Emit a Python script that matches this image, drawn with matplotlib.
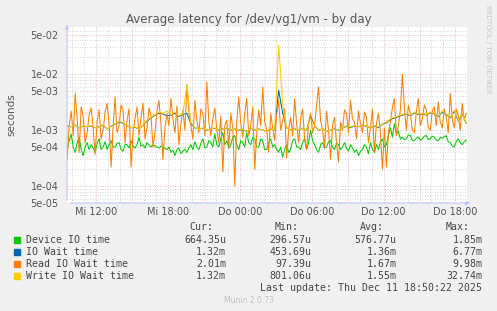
import matplotlib
matplotlib.use('Agg')
import matplotlib.pyplot as plt
import matplotlib.dates as mdates
import matplotlib.ticker as mticker
from matplotlib.patches import Rectangle
import numpy as np
import pandas as pd

# values in milliseconds; device/read sampled every 10 min, the wait totals every 20 min
times_10 = pd.date_range('2025-12-10 09:34', periods=201, freq='10min')
times_20 = pd.date_range('2025-12-10 09:34', periods=101, freq='20min')

device_io = [0.45, 0.65, 0.85, 0.50, 0.40, 0.60, 0.75, 0.45, 0.35, 0.50, 0.60, 0.45,
             0.55, 0.48, 0.40, 0.58, 0.70, 0.45, 0.50, 0.62, 0.45, 0.55, 0.65, 0.50,
             0.50, 0.58, 0.60, 0.45, 0.42, 0.56, 0.55, 0.48, 0.65, 0.52, 0.48, 0.55,
             0.75, 0.52, 0.55, 0.48, 0.60, 0.54, 0.50, 0.55, 0.52, 0.50, 0.48, 0.52,
             0.50, 0.47, 0.45, 0.50, 0.40, 0.44, 0.35, 0.45, 0.48, 0.38, 0.42, 0.46,
             0.40, 0.48, 0.55, 0.45, 0.62, 0.50, 0.45, 0.58, 0.70, 0.48, 0.50, 0.65,
             0.60, 0.50, 0.85, 0.55, 0.50, 0.70, 0.90, 0.55, 0.65, 0.48, 0.55, 0.75,
             0.80, 0.55, 0.45, 0.65, 0.60, 0.50, 0.90, 0.60, 0.55, 0.75, 0.70, 0.50,
             0.50, 0.70, 0.65, 0.45, 0.45, 0.60, 0.70, 0.50, 0.55, 0.45, 0.40, 0.50,
             0.33, 0.45, 0.55, 0.40, 0.45, 0.65, 0.70, 0.50, 0.50, 0.45, 0.60, 0.70,
             0.45, 0.60, 1.00, 0.65, 0.55, 0.45, 0.40, 0.55, 0.60, 0.48, 0.50, 0.62,
             0.65, 0.50, 0.45, 0.58, 0.55, 0.45, 0.50, 0.60, 0.48, 0.42, 0.55, 0.48,
             0.40, 0.45, 0.35, 0.42, 0.45, 0.55, 0.50, 0.38, 0.60, 0.45, 0.40, 0.55,
             0.45, 0.62, 0.70, 0.50, 0.55, 0.80, 1.10, 0.75, 1.30, 0.85, 0.95, 0.70,
             0.75, 0.68, 0.70, 0.82, 0.80, 0.66, 0.65, 0.72, 0.75, 0.66, 0.70, 0.78,
             0.80, 0.68, 0.70, 0.78, 0.75, 0.66, 0.65, 0.74, 0.72, 0.76, 0.80, 0.62,
             0.60, 0.52, 0.50, 0.62, 0.70, 0.60, 0.55, 0.62, 0.66]

io_wait = [1.18, 1.15, 1.22, 1.10, 1.18, 1.15,
           1.18, 1.10, 1.15, 1.22, 1.05, 1.18,
           1.28, 1.40, 1.32, 1.20, 1.10, 1.12,
           1.05, 1.22, 1.45, 1.65, 1.85, 2.00,
           1.95, 1.80, 1.85, 2.00, 1.75, 1.90,
           2.00, 1.30, 1.10, 1.05, 1.08, 1.00,
           1.05, 1.08, 1.00, 1.05, 1.08, 1.00,
           1.05, 1.00, 1.02, 0.95, 1.08, 1.00,
           1.05, 1.00, 0.95, 1.05, 1.00, 5.20,
           2.00, 1.10, 1.00, 1.05, 1.00, 1.08,
           1.00, 1.80, 1.20, 1.00, 1.05, 0.95,
           1.00, 1.05, 1.00, 1.08, 1.18, 1.12,
           1.18, 1.15, 1.22, 1.18, 1.10, 1.18,
           1.12, 1.28, 1.35, 1.55, 1.65, 1.75,
           1.85, 1.95, 1.80, 2.05, 1.90, 1.95,
           1.85, 2.05, 1.95, 1.75, 2.10, 1.90,
           1.65, 2.20, 1.45, 1.95, 1.32]

read_wait = [0.30, 1.20, 2.20, 0.80, 4.50, 1.60, 0.40, 2.60, 1.80, 0.60, 0.90, 1.90,
             2.50, 1.10, 0.37, 1.40, 2.30, 0.70, 1.00, 2.10, 3.00, 1.30, 0.22, 1.10,
             3.90, 0.90, 1.20, 2.80, 2.30, 0.60, 1.50, 2.40, 0.22, 0.90, 1.60, 2.60,
             0.80, 1.70, 3.00, 0.70, 1.10, 2.50, 1.80, 0.50, 0.90, 2.20, 3.40, 1.30,
             0.30, 1.10, 2.00, 1.20, 3.70, 1.60, 0.90, 2.70, 0.55, 1.30, 2.30, 1.00,
             6.50, 2.10, 1.20, 0.70, 3.40, 1.50, 0.90, 2.40, 2.00, 0.80, 7.30, 1.40,
             0.80, 1.60, 2.50, 1.00, 0.60, 1.80, 0.18, 1.20, 1.50, 0.50, 2.00, 1.10,
             0.10, 1.40, 3.90, 1.30, 0.75, 2.00, 3.70, 0.80, 1.20, 2.60, 0.20, 0.90,
             2.30, 1.20, 5.90, 1.40, 1.00, 0.40, 2.00, 1.10, 0.66, 1.90, 3.40, 1.00,
             1.50, 2.40, 0.32, 1.00, 1.70, 0.80, 3.70, 1.30, 0.60, 1.60, 2.40, 0.70,
             0.45, 1.30, 2.00, 0.90, 1.20, 2.80, 5.90, 1.50, 1.00, 0.50, 2.20, 1.00,
             0.30, 1.20, 1.70, 0.60, 0.27, 1.40, 1.00, 2.30, 2.00, 0.90, 3.40, 1.60,
             1.40, 0.70, 2.20, 1.30, 0.90, 2.10, 1.70, 0.60, 1.10, 2.40, 0.40, 1.30,
             2.00, 0.90, 0.20, 1.10, 0.22, 0.90, 1.40, 2.50, 3.70, 0.80, 1.20, 2.30,
             9.98, 2.50, 1.00, 2.80, 2.00, 1.00, 0.90, 2.10, 3.70, 1.20, 1.60, 2.80,
             2.30, 1.10, 1.00, 2.20, 2.60, 1.20, 3.20, 1.40, 1.10, 2.40, 1.70, 0.90,
             4.50, 1.60, 1.10, 2.40, 1.80, 1.00, 3.00, 1.50, 2.01]

write_wait = [1.20, 1.15, 1.25, 1.10, 1.20, 1.15,
              1.20, 1.10, 1.15, 1.25, 1.05, 1.20,
              1.30, 1.45, 1.35, 1.20, 1.10, 1.15,
              1.05, 1.25, 1.50, 1.70, 1.90, 2.10,
              2.00, 2.20, 1.90, 2.10, 1.80, 2.00,
              6.50, 1.40, 1.10, 1.05, 1.10, 1.00,
              1.05, 1.10, 1.00, 1.05, 1.10, 1.00,
              1.05, 1.00, 1.05, 0.95, 1.10, 1.00,
              1.05, 1.00, 0.95, 1.05, 1.00, 32.7,
              3.00, 1.10, 1.00, 1.05, 1.00, 1.10,
              1.00, 1.60, 1.20, 1.00, 1.05, 0.95,
              1.00, 1.05, 1.00, 1.10, 1.20, 1.15,
              1.20, 1.15, 1.25, 1.20, 1.10, 1.20,
              1.15, 1.30, 1.40, 1.60, 1.70, 1.80,
              1.90, 2.00, 1.85, 2.10, 1.95, 2.00,
              1.90, 2.10, 2.00, 1.80, 2.20, 1.95,
              1.70, 2.30, 1.50, 2.00, 1.32]

names = ['Device IO time', 'IO Wait time', 'Read IO Wait time', 'Write IO Wait time']
colors = ['#00cc00', '#0066b3', '#ff8000', '#ffcc00']
cur = ['664.35u', '1.32m', '2.01m', '1.32m']
mins = ['296.57u', '453.69u', '97.39u', '801.06u']
avgs = ['576.77u', '1.36m', '1.67m', '1.55m']
maxs = ['1.85m', '6.77m', '9.98m', '32.74m']

W, H = 497, 311
def fx(x):
    return x / W
def fy(y):
    return 1 - y / H

fig = plt.figure(figsize=(W / 100, H / 100), dpi=100, facecolor='#f0f0f0')
ax = fig.add_axes([fx(67), fy(203), fx(467) - fx(67), fy(27) - fy(203)])
ax.set_facecolor('white')

series = [(times_10, device_io), (times_20, io_wait), (times_10, read_wait), (times_20, write_wait)]
for (t, vals), c in zip(series, colors):
    ax.plot(t, np.array(vals) * 1e-3, color=c, lw=0.75)

ax.set_yscale('log')
ax.set_ylim(5e-5, 0.0695)
ax.set_xlim(pd.Timestamp('2025-12-10 09:33'), pd.Timestamp('2025-12-11 18:58'))

ax.yaxis.set_major_locator(mticker.FixedLocator([5e-5, 1e-4, 5e-4, 1e-3, 5e-3, 1e-2, 5e-2]))
ax.yaxis.set_major_formatter(mticker.FuncFormatter(lambda v, p: '%.0e' % v))
ax.yaxis.set_minor_locator(mticker.LogLocator(base=10, subs=[2, 3, 4, 6, 7, 8, 9], numticks=20))
ax.yaxis.set_minor_formatter(mticker.NullFormatter())

days = {2: 'Mi', 3: 'Do'}
def xfmt(v, p):
    d = mdates.num2date(v)
    if d.hour % 6 == 0:
        return '%s %02d:00' % (days.get(d.weekday(), ''), d.hour)
    return ''
ax.xaxis.set_major_locator(mdates.HourLocator(byhour=range(0, 24, 3)))
ax.xaxis.set_major_formatter(mticker.FuncFormatter(xfmt))
ax.xaxis.set_minor_locator(mdates.HourLocator())

ax.grid(which='minor', color='#c8c8c8', ls=(0, (1, 2)), lw=0.6)
ax.grid(which='major', color='#e4a0a0', ls=(0, (1, 2)), lw=0.6)
ax.set_axisbelow(True)

ax.tick_params(which='both', length=0, labelsize=7, colors='#555555', pad=3)
ax.tick_params(axis='y', pad=6)
for s in ax.spines.values():
    s.set_visible(False)

# axis arrows
ax.annotate('', xy=(0, 1.03), xytext=(0, 0), xycoords='axes fraction',
            arrowprops=dict(arrowstyle='-|>', color='#c0c8f0', lw=0.8, mutation_scale=6))
ax.annotate('', xy=(1.015, 0), xytext=(0, 0), xycoords='axes fraction',
            arrowprops=dict(arrowstyle='-|>', color='#c0c8f0', lw=0.8, mutation_scale=6))

fig.text(0.5, fy(19), 'Average latency for /dev/vg1/vm - by day', ha='center', va='center',
         fontsize=8.5, color='#555555')
fig.text(fx(11), fy(115), 'seconds', rotation=90, ha='center', va='center',
         fontsize=7.5, color='#555555')
fig.text(fx(488), fy(5), 'RRDTOOL / TOBI OETIKER', rotation=270, ha='center', va='top',
         fontsize=5, color='#c4c4c4')

mono = dict(family='DejaVu Sans Mono', fontsize=7.1, color='#444444', va='center')
fig.text(fx(213), fy(227), 'Cur:', ha='right', **mono)
fig.text(fx(299), fy(227), 'Min:', ha='right', **mono)
fig.text(fx(384), fy(227), 'Avg:', ha='right', **mono)
fig.text(fx(470), fy(227), 'Max:', ha='right', **mono)
for i in range(4):
    y = 240 + i * 11.9
    fig.patches.append(Rectangle((fx(14), fy(y + 3)), 6 / W, 6 / H, transform=fig.transFigure,
                                 color=colors[i], figure=fig))
    fig.text(fx(26), fy(y), names[i], ha='left', **mono)
    fig.text(fx(226), fy(y), cur[i], ha='right', **mono)
    fig.text(fx(311.5), fy(y), mins[i], ha='right', **mono)
    fig.text(fx(396.5), fy(y), avgs[i], ha='right', **mono)
    fig.text(fx(482.5), fy(y), maxs[i], ha='right', **mono)
fig.text(fx(482.5), fy(288), 'Last update: Thu Dec 11 18:50:22 2025', ha='right', **mono)
fig.text(0.5, fy(300.5), 'Munin 2.0.73', ha='center', va='center', fontsize=5.5, color='#c0c0c0')

plt.savefig('out.png', dpi=100, facecolor=fig.get_facecolor())
